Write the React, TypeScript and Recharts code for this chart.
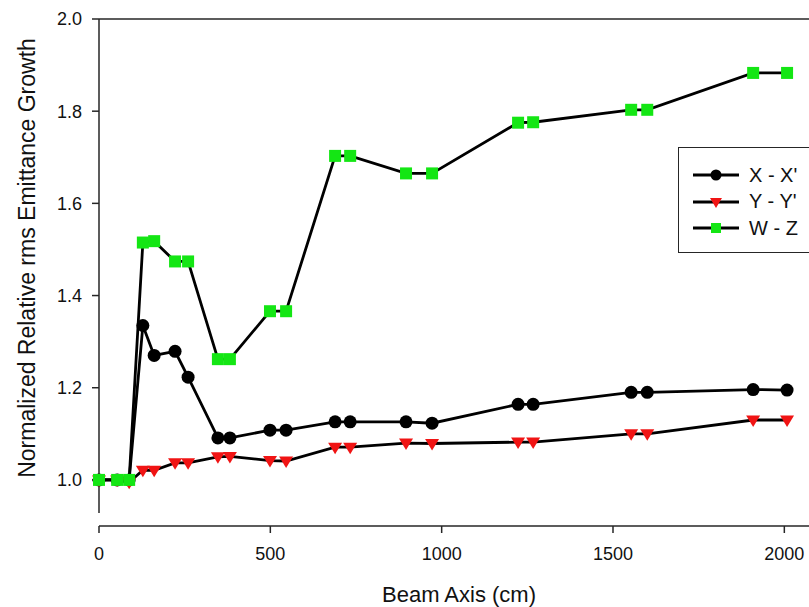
import {
  LineChart,
  Line,
  XAxis,
  YAxis,
  Legend,
  ReferenceLine,
} from "recharts";

// beam axis positions (cm) and normalized rms emittance growth per plane
const beamAxisCm = [
  0, 53, 88, 128, 161, 222, 260, 347, 382, 499, 546, 689, 733, 896, 972, 1223,
  1267, 1553, 1600, 1909, 2008,
];
const emitXX = [
  1.0, 1.0, 1.0, 1.335, 1.27, 1.279, 1.223, 1.091, 1.091, 1.108, 1.108, 1.126,
  1.126, 1.126, 1.123, 1.164, 1.164, 1.19, 1.19, 1.196, 1.195,
];
const emitYY = [
  1.0, 1.0, 0.995, 1.021, 1.021, 1.037, 1.037, 1.05, 1.051, 1.042, 1.041, 1.071,
  1.071, 1.08, 1.079, 1.082, 1.082, 1.1, 1.1, 1.13, 1.13,
];
const emitWZ = [
  1.0, 1.0, 1.0, 1.515, 1.518, 1.474, 1.474, 1.262, 1.262, 1.366, 1.366, 1.703,
  1.703, 1.665, 1.665, 1.775, 1.776, 1.803, 1.803, 1.883, 1.883,
];
const xTicks = [0, 500, 1000, 1500, 2000];
const yTicks = [1.0, 1.2, 1.4, 1.6, 1.8, 2.0];

const data = beamAxisCm.map((x, i) => ({
  x,
  xx: emitXX[i],
  yy: emitYY[i],
  wz: emitWZ[i],
}));

const FONT = "'Liberation Sans', Arial, sans-serif";
const AXIS = "#262626";
const RED = "#f01414";
const GREEN = "#14e614";

type DotProps = { cx?: number; cy?: number; index?: number };

function circleDot(p: DotProps) {
  return <circle key={`c${p.index}`} cx={p.cx} cy={p.cy} r={6.5} fill="#000" />;
}

function triangleDot(p: DotProps) {
  const cx = p.cx ?? 0;
  const cy = p.cy ?? 0;
  return (
    <path
      key={`t${p.index}`}
      d={`M${cx - 7},${cy - 4.5}L${cx + 7},${cy - 4.5}L${cx},${cy + 7}Z`}
      fill={RED}
    />
  );
}

function squareDot(p: DotProps) {
  const cx = p.cx ?? 0;
  const cy = p.cy ?? 0;
  return (
    <rect key={`s${p.index}`} x={cx - 6} y={cy - 6} width={12} height={12} fill={GREEN} />
  );
}

const legendRows = [
  { label: "X - X'", marker: "circle" },
  { label: "Y - Y'", marker: "triangle" },
  { label: "W - Z", marker: "square" },
];

function LegendBox() {
  return (
    <div
      style={{
        border: `1.5px solid ${AXIS}`,
        background: "#fff",
        boxSizing: "border-box",
        width: 150,
        height: 106,
        paddingTop: 14,
        paddingLeft: 14,
        fontFamily: FONT,
        fontSize: 20,
        color: "#111",
      }}
    >
      {legendRows.map((r) => (
        <div key={r.label} style={{ display: "flex", alignItems: "center", height: 26.5 }}>
          <svg width={56} height={20} style={{ display: "block" }}>
            <line x1={0} y1={10} x2={46} y2={10} stroke="#000" strokeWidth={2.8} />
            {r.marker === "circle" && <circle cx={23} cy={10} r={5.5} fill="#000" />}
            {r.marker === "triangle" && <path d="M17,6L29,6L23,16Z" fill={RED} />}
            {r.marker === "square" && <rect x={18} y={5} width={10} height={10} fill={GREEN} />}
          </svg>
          <span>{r.label}</span>
        </div>
      ))}
    </div>
  );
}

export default function App() {
  return (
    <div
      style={{
        position: "absolute",
        left: 0,
        top: 0,
        width: 809,
        height: 607,
        overflow: "hidden",
        background: "#fff",
      }}
    >
      <LineChart
        width={809}
        height={607}
        data={data}
        margin={{ top: 19, right: 0, bottom: 0, left: 0 }}
      >
        <XAxis
          type="number"
          dataKey="x"
          domain={[0, 2072]}
          ticks={xTicks}
          height={81}
          tickSize={7}
          tickMargin={14}
          stroke={AXIS}
          strokeWidth={1.5}
          tick={{ fill: "#111", fontSize: 18, fontFamily: FONT }}
          label={{
            content: () => (
              <text
                x={459}
                y={602}
                textAnchor="middle"
                fill="#111"
                fontSize={22}
                fontFamily={FONT}
              >
                Beam Axis (cm)
              </text>
            ),
          }}
        />
        <YAxis
          type="number"
          domain={[0.9, 2.0]}
          ticks={yTicks}
          width={99}
          axisLine={false}
          tickSize={7}
          tickMargin={10}
          stroke={AXIS}
          strokeWidth={1.5}
          tickFormatter={(v: number) => v.toFixed(1)}
          tick={{ fill: "#111", fontSize: 18, fontFamily: FONT }}
          label={{
            content: () => (
              <text
                x={35}
                y={258}
                transform="rotate(-90 35 258)"
                textAnchor="middle"
                fill="#111"
                fontSize={23}
                fontFamily={FONT}
              >
                Normalized Relative rms Emittance Growth
              </text>
            ),
          }}
        />
        <ReferenceLine y={2.0} stroke={AXIS} strokeWidth={1.5} />
        <ReferenceLine
          segment={[
            { x: 0, y: 0.928 },
            { x: 0, y: 2.0 },
          ]}
          stroke={AXIS}
          strokeWidth={1.5}
        />
        <Legend
          layout="vertical"
          align="center"
          verticalAlign="middle"
          content={() => <LegendBox />}
          wrapperStyle={{ left: 678, top: 147, width: 150, height: 106 }}
        />
        <Line
          dataKey="xx"
          name="X - X'"
          type="linear"
          stroke="#000"
          strokeWidth={2.8}
          dot={circleDot}
          activeDot={false}
          isAnimationActive={false}
        />
        <Line
          dataKey="yy"
          name="Y - Y'"
          type="linear"
          stroke="#000"
          strokeWidth={2.8}
          dot={triangleDot}
          activeDot={false}
          isAnimationActive={false}
        />
        <Line
          dataKey="wz"
          name="W - Z"
          type="linear"
          stroke="#000"
          strokeWidth={2.8}
          dot={squareDot}
          activeDot={false}
          isAnimationActive={false}
        />
      </LineChart>
    </div>
  );
}
